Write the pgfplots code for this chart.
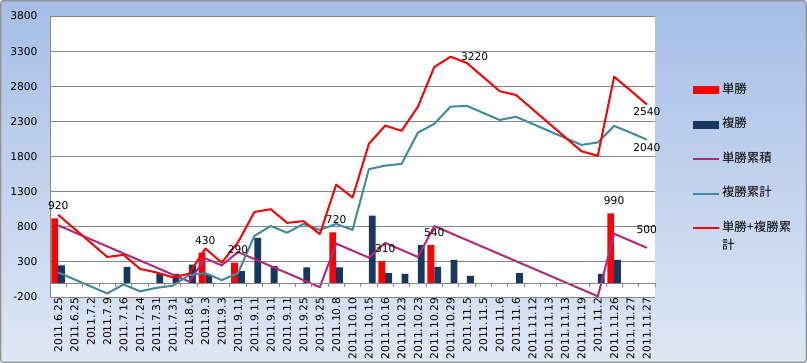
\documentclass[border=0pt]{standalone}
\usepackage{pgfplots}
\pgfplotsset{compat=1.18}
\usepackage{fontspec}
\setmainfont{DejaVu Sans}
\newfontfamily\jp{Noto Sans CJK JP}
\definecolor{tanred}{HTML}{FF0000}
\definecolor{fukunavy}{HTML}{17375E}
\definecolor{tanmag}{HTML}{B4287A}
\definecolor{fukuteal}{HTML}{4189A0}
\definecolor{bgtop}{HTML}{A6BEE6}
\definecolor{bgbot}{HTML}{DEE7F5}
\definecolor{gridgray}{HTML}{868686}
\newcommand{\lblfont}{\fontsize{10.7}{12}\selectfont}
\begin{document}
\begin{tikzpicture}
\useasboundingbox (0,0) rectangle (807bp,363bp);
\shade[top color=bgtop, bottom color=bgbot, draw=gray!85, line width=1.2bp, rounded corners=2bp] (0.8bp,0.8bp) rectangle (806.2bp,362.2bp);
\begin{axis}[
  at={(50bp,66bp)}, anchor=south west,
  width=605bp, height=281bp, scale only axis,
  clip=false,
  axis background/.style={fill=white},
  axis line style={draw=none},
  xmin=-0.5, xmax=36.5, ymin=-200, ymax=3800,
  xtick={0,...,36},
  xticklabels={2011.6.25,2011.6.25,2011.7.2,2011.7.9,2011.7.16,2011.7.24,2011.7.31,2011.7.31,2011.8.6,2011.9.3,2011.9.3,2011.9.11,2011.9.11,2011.9.11,2011.9.11,2011.9.25,2011.9.25,2011.10.8,2011.10.10,2011.10.15,2011.10.16,2011.10.23,2011.10.23,2011.10.29,2011.10.29,2011.11.5,2011.11.5,2011.11.6,2011.11.6,2011.11.12,2011.11.13,2011.11.13,2011.11.19,2011.11.2,2011.11.26,2011.11.27,2011.11.27},
  ytick={-200,300,800,1300,1800,2300,2800,3300,3800},
  yticklabels={-200,300,800,1300,1800,2300,2800,3300,3800},
  ymajorgrids, grid style={gridgray, line width=0.8bp},
  tick style={draw=none},
  major tick length=0pt,
  tick label style={font=\lblfont},
  xticklabel style={rotate=90, anchor=east, inner sep=1bp},
  yticklabel style={xshift=-9bp},
  /pgf/number format/assume math mode=true,
  /pgf/number format/1000 sep={},
  legend cell align=left,
  legend style={at={(1.0612,0.758)}, anchor=north west, draw=none, fill=none,
    inner sep=0pt, outer sep=0pt, row sep=22.5bp,
    font=\jp\fontsize{12.5}{19}\selectfont,
    nodes={inner xsep=2bp, inner ysep=0pt, text height=9bp, text depth=3bp}},
]
\addplot[ybar, bar width=6.8bp, bar shift=-3.4bp, fill=tanred, draw=none,
  nodes near coords, nodes near coords style={font=\lblfont, yshift=5bp, text=black},
  legend image code/.code={\fill[tanred] (0bp,-4bp) rectangle (26bp,4bp);}]
  coordinates {(0,920) (9,430) (11,290) (17,720) (20,310) (23,540) (34,990)};
\addlegendentry{単勝}
\addplot[ybar, bar width=6.8bp, bar shift=3.4bp, fill=fukunavy, draw=none,
  legend image code/.code={\fill[fukunavy] (0bp,-4bp) rectangle (26bp,4bp);}]
  coordinates {(0,250) (4,230) (6,125) (7,125) (8,260) (9,120) (11,170) (12,640) (13,240) (15,220) (17,220) (19,960) (20,140) (21,130) (22,540) (23,230) (24,330) (25,100) (28,140) (33,130) (34,330)};
\addlegendentry{複勝}
\addplot[tanmag, line width=2bp, line join=round, mark=none,
  legend image code/.code={\draw[tanmag, line width=2bp] (0bp,0bp) -- (26bp,0bp);}]
  coordinates {(0,820) (1,720) (2,620) (3,520) (4,420) (5,320) (6,220) (7,120) (8,20) (9,350) (10,250) (11,440) (12,340) (13,240) (14,140) (15,40) (16,-60) (17,560) (18,460) (19,360) (20,570) (21,470) (22,370) (23,810) (24,710) (25,610) (26,510) (27,410) (28,310) (29,210) (30,110) (31,10) (32,-90) (33,-190) (34,700) (35,600) (36,500)};
\addlegendentry{単勝累積}
\addplot[fukuteal, line width=2bp, line join=round, mark=none,
  legend image code/.code={\draw[fukuteal, line width=2bp] (0bp,0bp) -- (26bp,0bp);}]
  coordinates {(0,150) (1,50) (2,-50) (3,-150) (4,-20) (5,-120) (6,-70) (7,-40) (8,110) (9,140) (10,40) (11,140) (12,670) (13,810) (14,715) (15,840) (16,755) (17,840) (18,755) (19,1620) (20,1670) (21,1695) (22,2140) (23,2265) (24,2510) (25,2520) (26,2420) (27,2320) (28,2365) (29,2265) (30,2165) (31,2065) (32,1965) (33,2000) (34,2235) (35,2140) (36,2040)};
\addlegendentry{複勝累計}
\addplot[tanred, line width=2bp, line join=round, mark=none,
  legend image code/.code={\draw[tanred, line width=2bp] (0bp,0bp) -- (26bp,0bp);}]
  coordinates {(0,970) (1,770) (2,570) (3,370) (4,400) (5,200) (6,150) (7,80) (8,130) (9,490) (10,290) (11,580) (12,1010) (13,1050) (14,855) (15,880) (16,695) (17,1400) (18,1215) (19,1980) (20,2240) (21,2165) (22,2510) (23,3075) (24,3220) (25,3130) (26,2930) (27,2730) (28,2675) (29,2475) (30,2275) (31,2075) (32,1875) (33,1810) (34,2935) (35,2740) (36,2540)};
\addlegendentry{\smash{\begin{tabular}[t]{@{}l@{}}単勝+複勝累\\計\end{tabular}}}
\draw[gridgray, line width=0.8bp] (rel axis cs:0,0) -- (rel axis cs:0,1);
\draw[gridgray, line width=0.8bp] (axis cs:-0.5,0) -- (axis cs:36.5,0);
\pgfplotsinvokeforeach{0,...,37}{\draw[gridgray, line width=0.8bp] (axis cs:#1-0.5,0) -- ([yshift=-4bp]axis cs:#1-0.5,0);}
\node[font=\lblfont, anchor=west, xshift=7bp] at (axis cs:24,3220) {3220};
\node[font=\lblfont, anchor=north] at (axis cs:36,2540) {2540};
\node[font=\lblfont, anchor=north] at (axis cs:36,2040) {2040};
\node[font=\lblfont, anchor=south, yshift=11bp] at (axis cs:36,500) {500};
\end{axis}
\end{tikzpicture}
\end{document}
